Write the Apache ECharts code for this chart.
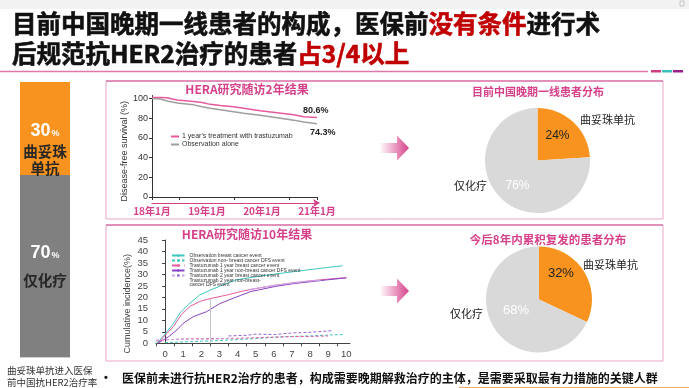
<!DOCTYPE html>
<html><head><meta charset="utf-8">
<script src="https://cdn.jsdelivr.net/npm/echarts@6/dist/echarts.min.js"></script>
<style>html,body{margin:0;padding:0;background:#fff}#c{width:689px;height:388px}</style>
</head><body><div id="c"></div>
<script>
// ---------- data ----------
const barCats = ['曲妥珠单抗', '仅化疗'];
const barValues = [30, 70];
const captionLines = ['曲妥珠单抗进入医保', '前中国抗HER2治疗率'];

const dfsTitle = 'HERA研究随访2年结果';
const dfsNames = ["1 year's treatment with trastuzumab", 'Observation alone'];
const dfsMonths = [0, 1.8, 3.3, 4.4, 5.5, 9.1, 10.9, 12.7, 14.9, 17.8, 20, 23.6, 27.3, 30.9, 33.1, 36];
const dfsTrast  = [101, 101, 100.8, 99.5, 98.5, 97, 96, 94, 92.8, 91.5, 90, 87.5, 85.5, 83.5, 81.5, 80.6];
const dfsObs    = [100, 99.5, 97.5, 96.5, 95.5, 93.5, 91.5, 90, 88.5, 86.5, 85, 83, 80.5, 78, 76, 74.3];
const dfsEndLabels = ['80.6%', '74.3%'];
const dfsYTicks = [0, 20, 40, 60, 80, 100];
const dfsXTicks = [0, 6, 18, 30, 36];
const dfsLabelMonths = [0, 12, 24, 36];
const dfsLabelTexts = ['18年1月', '19年1月', '20年1月', '21年1月'];

const cumTitle = 'HERA研究随访10年结果';
const cumLegend = ['Observation breast cancer event', 'Observation non- breast cancer DFS event',
  'Trastuzumab 1 year breast cancer event', 'Trastuzumab 1 year non-breast cancer DFS event',
  'Trastuzumab 2 year breast cancer event', 'Trastuzumab 2 year non-breast-cancer DFS event'];
const obsBcX = [-0.45, 0, 0.45, 0.85, 1.3, 1.9, 2.5, 3.0, 3.9, 5.0, 6.1, 7.2, 8.3, 9.8];
const obsBcY = [0, 4, 8.5, 13.5, 17, 21, 23.2, 24.8, 27.6, 29, 30.2, 31.3, 32.4, 33.8];
const obsNbX = [0, 1, 2, 3, 4, 5, 6, 7, 8, 9, 9.8];
const obsNbY = [0.3, 0.6, 0.9, 1.2, 1.6, 2.1, 2.6, 3.0, 3.2, 3.6, 3.8];
const t1BcX = [-0.4, 0.1, 0.45, 0.9, 1.4, 1.95, 2.5, 3.4, 4.3, 5.2, 6.1, 7.1, 8.0, 8.9, 10.0];
const t1BcY = [0, 4.3, 7.2, 12.5, 16.2, 18.3, 19.5, 21, 22.8, 24.1, 25.3, 26.4, 27.2, 27.9, 28.6];
const t1NbX = [-0.4, 0.2, 0.65, 1.0, 1.55, 2.3, 3.0, 3.75, 4.15, 4.7, 5.2, 6.1, 7.1, 8.0, 8.9, 10.0];
const t1NbY = [0, 2.9, 5.8, 8.7, 11.6, 13.8, 17.2, 19.6, 20.8, 22.5, 23.3, 24.8, 26.0, 26.8, 27.6, 28.5];
const t2BcX = [3.5, 4.5, 5.0, 6.0, 7.0, 8.0, 9.2];
const t2BcY = [3.2, 3.5, 4.0, 3.8, 4.5, 4.8, 5.5];
const t2NbX = [4.7, 5.5, 6.3, 7.0, 7.8, 8.6];
const t2NbY = [23.5, 24.6, 25.5, 26.2, 27.0, 27.5];
const t1LowX = [-0.5, 0, 1, 2, 3, 4, 5, 6, 7, 8, 9];
const t1LowY = [1, 1.5, 1.9, 2.0, 2.1, 2.2, 2.4, 2.7, 2.9, 3.0, 3.2];
const t2LowX = [-0.5, 0.5, 1.5, 2.5, 3.5];
const t2LowY = [1.4, 1.7, 1.8, 1.8, 2.0];
const cumMarkX = 2.5, cumMarkTop = 19.3;
const cumXLabels = [0, 1, 2, 3, 4, 5, 6, 7, 8, 9, 10];
const cumXTicks = [-0.5, 0.5, 1.5, 2.5, 3.5, 4.5, 5.5, 6.5, 7.5, 8.5, 9.5];

const pieCats = ['曲妥珠单抗', '仅化疗'];
const pie1Values = [24, 76];
const pie2Values = [32, 68];
const pieTitles = ['目前中国晚期一线患者分布', '今后8年内累积复发的患者分布'];

const titleLine1 = ['目前中国晚期一线患者的构成，医保前', '没有条件', '进行术'];
const titleLine2 = ['后规范抗HER2治疗的患者', '占3/4以上'];
const bulletText = '医保前未进行抗HER2治疗的患者，构成需要晚期解救治疗的主体，是需要采取最有力措施的关键人群';

// ---------- styling ----------
const CJK = '"Noto Sans CJK SC","Noto Sans",sans-serif';
const LAT = '"Liberation Sans",Arial,"Noto Sans CJK SC",sans-serif';
const PINK = '#d6418a';
const ORANGE = '#f7931e';
const GRAYBAR = '#808080';
const TEAL = '#3fc6bf';
const PURPLE = '#8444c4';
const LAV = '#c9a9e9';
const PINKLINE = '#e65a9d';

const pairs = (xs, ys) => xs.map((x, i) => [x, ys[i]]);
const P1 = [537.5, 160.5], P2 = [539, 299.5];

const chart = echarts.init(document.getElementById('c'));

function lineSeries(name, xs, ys, color, type, extra) {
  return Object.assign({
    type: 'line', name: name, xAxisIndex: 4, yAxisIndex: 3, data: pairs(xs, ys),
    symbol: 'none', silent: true, animation: false,
    lineStyle: { color: color, width: 1, type: type || 'solid' }, itemStyle: { color: color }
  }, extra || {});
}

function arrow(cy) {
  return {
    type: 'polygon', silent: true,
    shape: { points: [[380, cy - 5], [397, cy - 5], [397, cy - 12.5], [409, cy], [397, cy + 12.5], [397, cy + 5], [380, cy + 5]] },
    style: { fill: new echarts.graphic.LinearGradient(0, 0, 1, 0, [{ offset: 0, color: 'rgba(214,65,138,0.02)' }, { offset: 1, color: '#d6418a' }]) }
  };
}

function box(top, bottom) {
  return [
    { type: 'rect', silent: true, shape: { x: 106, y: top, width: 557, height: bottom - top }, style: { fill: 'none', stroke: '#eaa6ca', lineWidth: 1 } },
    { type: 'line', silent: true, shape: { x1: 106, y1: top, x2: 663, y2: top }, style: { stroke: '#d2508f', lineWidth: 1.2 } }
  ];
}

const titleRich = {
  b: { fill: '#111', fontSize: 24.5, fontWeight: 'bold', fontFamily: CJK, stroke: '#111', lineWidth: 0.6 },
  r: { fill: '#c00000', fontSize: 24.5, fontWeight: 'bold', fontFamily: CJK, stroke: '#c00000', lineWidth: 0.6 }
};

const graphics = [
  { type: 'rect', silent: true, shape: { x: 0, y: 0, width: 689, height: 9 }, style: { fill: '#f2f2f2' } },
  { type: 'rect', silent: true, shape: { x: 680, y: 1, width: 4, height: 5 }, style: { fill: 'none', stroke: '#bbbbbb', lineWidth: 0.8 } },
  { type: 'text', silent: true, x: 12, y: 24, style: {
      text: '{b|' + titleLine1[0] + '}{r|' + titleLine1[1] + '}{b|' + titleLine1[2] + '}',
      verticalAlign: 'middle', font: 'bold 24.5px ' + CJK, rich: titleRich } },
  { type: 'text', silent: true, x: 12, y: 54, style: {
      text: '{b|' + titleLine2[0] + '}{r|' + titleLine2[1] + '}',
      verticalAlign: 'middle', font: 'bold 24.5px ' + CJK, rich: titleRich } },
  { type: 'line', silent: true, shape: { x1: 0, y1: 71.5, x2: 648, y2: 71.5 }, style: { stroke: '#d97aa9', lineWidth: 1.5 } },
  { type: 'rect', silent: true, shape: { x: 651, y: 70, width: 10, height: 2.5 }, style: { fill: '#cf3f80' } },
  { type: 'rect', silent: true, shape: { x: 662, y: 70, width: 10, height: 2.5 }, style: { fill: '#3cbfb8' } },
  { type: 'rect', silent: true, shape: { x: 673, y: 70, width: 10, height: 2.5 }, style: { fill: '#9a2092' } },
  ...box(81, 219), ...box(225, 361),
  arrow(148), arrow(291),
  { type: 'text', silent: true, x: 247, y: 89, style: { text: dfsTitle, align: 'center', verticalAlign: 'middle', font: 'bold 12px ' + CJK, fill: PINK } },
  { type: 'text', silent: true, x: 247, y: 234, style: { text: cumTitle, align: 'center', verticalAlign: 'middle', font: 'bold 12px ' + CJK, fill: PINK } },
  { type: 'text', silent: true, x: 538, y: 92, style: { text: pieTitles[0], align: 'center', verticalAlign: 'middle', font: 'bold 11px ' + CJK, fill: PINK } },
  { type: 'text', silent: true, x: 548, y: 240, style: { text: pieTitles[1], align: 'center', verticalAlign: 'middle', font: 'bold 11.5px ' + CJK, fill: PINK } },
  { type: 'text', silent: true, x: 580, y: 119.5, style: { text: pieCats[0], verticalAlign: 'middle', font: '11px ' + CJK, fill: '#222' } },
  { type: 'text', silent: true, x: 487, y: 186, style: { text: pieCats[1], align: 'right', verticalAlign: 'middle', font: '11px ' + CJK, fill: '#222' } },
  { type: 'text', silent: true, x: 583, y: 265, style: { text: pieCats[0], verticalAlign: 'middle', font: '11px ' + CJK, fill: '#222' } },
  { type: 'text', silent: true, x: 483, y: 314, style: { text: pieCats[1], align: 'right', verticalAlign: 'middle', font: '11px ' + CJK, fill: '#222' } },
  { type: 'text', silent: true, x: 7, y: 370, style: { text: captionLines[0], verticalAlign: 'middle', font: '9.5px ' + CJK, fill: '#333' } },
  { type: 'text', silent: true, x: 7, y: 382, style: { text: captionLines[1], verticalAlign: 'middle', font: '9.5px ' + CJK, fill: '#333' } },
  { type: 'text', silent: true, x: 104, y: 378, style: { text: '•', verticalAlign: 'middle', font: 'bold 11px ' + LAT, fill: '#111' } },
  { type: 'text', silent: true, x: 122, y: 378, style: { text: bulletText, verticalAlign: 'middle', font: 'bold 12px ' + CJK, fill: '#111' } },
  { type: 'line', silent: true, shape: { x1: 459, y1: 387.5, x2: 689, y2: 387.5 }, style: { stroke: '#f4a860', lineWidth: 1 } }
];

const PIE2_INDEX = 15;

const option = {
  backgroundColor: '#ffffff',
  animation: false,
  textStyle: { fontFamily: LAT },
  grid: [
    { left: 20, top: 82, width: 50, height: 93 },
    { left: 20, top: 175, width: 50, height: 182 },
    { left: 152, top: 95.5, width: 165, height: 101.5 },
    { left: 156, top: 240, width: 194, height: 103.3 }
  ],
  xAxis: [
    { gridIndex: 0, type: 'category', data: [barCats[0]], show: false },
    { gridIndex: 1, type: 'category', data: [barCats[1]], axisLine: { lineStyle: { color: '#d0d0d0' } }, axisTick: { show: false }, axisLabel: { show: false } },
    { gridIndex: 2, type: 'value', min: 0, max: 36, splitLine: { show: false },
      axisLine: { lineStyle: { color: '#333', width: 1 } },
      axisTick: { customValues: dfsXTicks, length: 3, lineStyle: { color: '#333' } }, axisLabel: { show: false } },
    { gridIndex: 2, type: 'value', min: 0, max: 36, position: 'bottom', offset: 6, splitLine: { show: false },
      axisLine: { lineStyle: { color: PINK, width: 1.2 }, symbol: ['none', 'arrow'], symbolSize: [6, 7], symbolOffset: [0, 3] },
      axisTick: { show: false },
      axisLabel: { customValues: dfsLabelMonths, margin: 3, color: PINK, fontWeight: 'bold', fontSize: 10, fontFamily: CJK,
        formatter: v => dfsLabelTexts[dfsLabelMonths.indexOf(v)] || '' } },
    { gridIndex: 3, type: 'value', min: -0.5, max: 10.2, splitLine: { show: false },
      axisLine: { lineStyle: { color: '#444' } },
      axisTick: { customValues: cumXTicks, length: 3, lineStyle: { color: '#444' } },
      axisLabel: { customValues: cumXLabels, margin: 6, color: '#444', fontSize: 9.5 } }
  ],
  yAxis: [
    { gridIndex: 0, type: 'value', min: 0, max: barValues[0], show: false },
    { gridIndex: 1, type: 'value', min: 0, max: barValues[1], show: false },
    { gridIndex: 2, type: 'value', min: 0, max: 103, splitLine: { show: false },
      axisLine: { show: true, lineStyle: { color: '#333' } },
      axisTick: { show: true, customValues: dfsYTicks, length: 3, lineStyle: { color: '#333' } },
      axisLabel: { customValues: dfsYTicks, margin: 4, fontSize: 9, color: '#333' },
      name: 'Disease-free survival (%)', nameLocation: 'middle', nameGap: 17, nameRotate: 90,
      nameTextStyle: { fontSize: 9, color: '#333', padding: [0, 10, 0, 0] } },
    { gridIndex: 3, type: 'value', min: 0, max: 45, interval: 5, splitLine: { show: false },
      axisLine: { show: true, lineStyle: { color: '#444' } },
      axisTick: { show: true, length: 3, lineStyle: { color: '#444' } },
      axisLabel: { margin: 8, fontSize: 9.5, color: '#444' },
      name: 'Cumulative incidence(%)', nameLocation: 'middle', nameGap: 24, nameRotate: 90,
      nameTextStyle: { fontSize: 9, color: '#444', padding: [0, 24, 0, 0] } }
  ],
  legend: [
    { left: 165, top: 127.5, orient: 'vertical', itemWidth: 8, itemHeight: 2, itemGap: 0, selectedMode: false,
      textStyle: { fontSize: 7, color: '#333', lineHeight: 8, padding: [0, 0, 0, -2] }, data: dfsNames },
    { left: 166, top: 248, orient: 'vertical', itemWidth: 12.5, itemHeight: 3, itemGap: 0, selectedMode: false,
      textStyle: { fontSize: 5, color: '#333', lineHeight: 4.3 },
      formatter: n => n === cumLegend[5] ? 'Trastuzumab 2 year non-breast-\ncancer DFS event' : n,
      data: [
        { name: cumLegend[0] },
        { name: cumLegend[1] },
        { name: cumLegend[2], lineStyle: { type: 'dashed' } },
        { name: cumLegend[3] },
        { name: cumLegend[4], lineStyle: { color: LAV } },
        { name: cumLegend[5], lineStyle: { opacity: 0 }, itemStyle: { opacity: 0 } }
      ] }
  ],
  graphic: graphics,
  series: [
    { type: 'bar', xAxisIndex: 0, yAxisIndex: 0, data: [barValues[0]], barWidth: '100%', silent: true,
      itemStyle: { color: ORANGE },
      label: { show: true, position: 'inside', offset: [0, 20],
        formatter: p => '{v|' + p.value + '}{p|%}\n{n|' + barCats[0].slice(0, 3) + '}\n{n|' + barCats[0].slice(3) + '}',
        rich: { v: { fontSize: 18, fontWeight: 'bold', color: '#fff', lineHeight: 22, fontFamily: LAT },
                p: { fontSize: 9, fontWeight: 'bold', color: '#fff', fontFamily: LAT, padding: [5, 0, 0, 1] },
                n: { fontSize: 14.5, fontWeight: 'bold', color: '#262626', lineHeight: 17, fontFamily: CJK } } } },
    { type: 'bar', xAxisIndex: 1, yAxisIndex: 1, data: [barValues[1]], barWidth: '100%', silent: true,
      itemStyle: { color: GRAYBAR },
      label: { show: true, position: 'inside', offset: [0, 3],
        formatter: p => '{v|' + p.value + '}{p|%}\n{n|' + barCats[1] + '}',
        rich: { v: { fontSize: 18, fontWeight: 'bold', color: '#fff', lineHeight: 22, fontFamily: LAT },
                p: { fontSize: 9, fontWeight: 'bold', color: '#fff', fontFamily: LAT, padding: [5, 0, 0, 1] },
                n: { fontSize: 14.5, fontWeight: 'bold', color: '#262626', lineHeight: 32, fontFamily: CJK } } } },
    { type: 'line', name: dfsNames[0], xAxisIndex: 2, yAxisIndex: 2, symbol: 'none', silent: true, clip: false,
      lineStyle: { color: PINKLINE, width: 1.5 }, itemStyle: { color: PINKLINE },
      endLabel: { show: true, formatter: dfsEndLabels[0], offset: [-22, -7], fontSize: 9, fontWeight: 'bold', color: '#222' },
      data: pairs(dfsMonths, dfsTrast) },
    { type: 'line', name: dfsNames[1], xAxisIndex: 2, yAxisIndex: 2, symbol: 'none', silent: true, clip: false,
      lineStyle: { color: '#9e9e9e', width: 1.5 }, itemStyle: { color: '#9e9e9e' },
      endLabel: { show: true, formatter: dfsEndLabels[1], offset: [-15, 9], fontSize: 9, fontWeight: 'bold', color: '#222' },
      data: pairs(dfsMonths, dfsObs) },
    lineSeries(cumLegend[0], obsBcX, obsBcY, TEAL, 'solid', {
      markLine: { silent: true, symbol: 'none', label: { show: false }, lineStyle: { color: '#c4c4c4', width: 1, type: 'solid' },
        data: [[{ coord: [cumMarkX, 0] }, { coord: [cumMarkX, cumMarkTop] }]] } }),
    lineSeries(cumLegend[1], obsNbX, obsNbY, TEAL, [3, 2]),
    lineSeries(cumLegend[2], t1BcX, t1BcY, PINKLINE, 'solid'),
    lineSeries(cumLegend[3], t1NbX, t1NbY, PURPLE, 'solid'),
    lineSeries(cumLegend[4], t2BcX, t2BcY, '#9a66d6', [3, 2]),
    lineSeries(cumLegend[5], t2NbX, t2NbY, LAV, 'solid'),
    lineSeries('t1low', t1LowX, t1LowY, PINKLINE, [3, 2]),
    lineSeries('t2low', t2LowX, t2LowY, LAV, [3, 2]),
    { type: 'pie', center: P1, radius: 52.5, startAngle: 90, silent: true, avoidLabelOverlap: false,
      label: { show: true, position: 'inside', formatter: '{c}%', fontSize: 12, fontFamily: LAT },
      labelLine: { show: false },
      labelLayout: p => (p.dataIndex === 0 ? { dy: -3 } : { dy: 4 }),
      data: pieCats.map((n, i) => ({ name: n, value: pie1Values[i],
        itemStyle: { color: i === 0 ? ORANGE : '#d9d9d9' }, label: { color: i === 0 ? '#222' : '#fff' } })) },
    { type: 'pie', center: P2, radius: 53, startAngle: 90, silent: true, avoidLabelOverlap: false,
      label: { show: true, position: 'inside', formatter: '{c}%', fontSize: 13, fontFamily: LAT },
      labelLine: { show: false },
      labelLayout: p => (p.dataIndex === 0 ? { dy: -10, dx: -3 } : { dy: -5, dx: 2 }),
      data: pieCats.map((n, i) => ({ name: n, value: pie2Values[i],
        itemStyle: { color: i === 0 ? ORANGE : '#d9d9d9' }, label: { color: i === 0 ? '#222' : '#fff' } })) }
  ]
};
chart.setOption(option);
</script>
</body></html>
